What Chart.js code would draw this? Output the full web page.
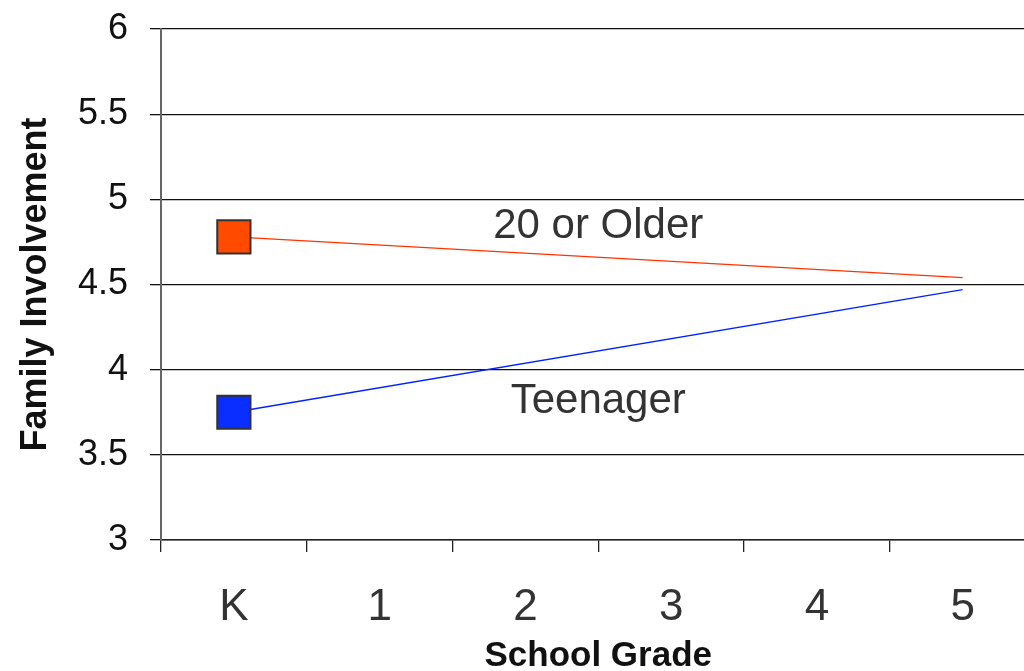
<!DOCTYPE html>
<html>
<head>
<meta charset="utf-8">
<script src="https://cdn.jsdelivr.net/npm/chart.js@4/dist/chart.umd.min.js"></script>
<style>
  html, body { margin: 0; padding: 0; background: #fff; overflow: hidden; }
  #wrap { width: 1024px; height: 671px; overflow: hidden; }
  canvas { display: block; }
</style>
</head>
<body>
<div id="wrap"><canvas id="grafico" width="1061" height="671"></canvas></div>
<script>
// grados escolares (eje x)
var grados = ['K', '1', '2', '3', '4', '5'];
// implicación familiar por edad de la madre; solo K y 5 tienen valor
var mayores = [4.78, null, null, null, null, 4.54];
var adolescentes = [3.75, null, null, null, null, 4.47];
// marcador solo en K
var marcadores = [23.5, 0, 0, 0, 0, 0];
// etiquetas dentro del gráfico, ancladas en unidades de datos
var etiquetas = [
  { texto: '20 or Older', x: 2.5, y: 4.84 },
  { texto: 'Teenager', x: 2.5, y: 3.815 }
];

var textos = {
  id: 'textos',
  afterDatasetsDraw: function (chart) {
    var ctx = chart.ctx;
    var sx = chart.scales.x, sy = chart.scales.y;
    ctx.save();
    ctx.font = '42px "Liberation Sans", Arial, sans-serif';
    ctx.fillStyle = '#333';
    ctx.textAlign = 'center';
    ctx.textBaseline = 'middle';
    for (let e of etiquetas) {
      ctx.fillText(e.texto, sx.getPixelForValue(e.x), sy.getPixelForValue(e.y));
    }
    ctx.restore();
  }
};

var fuente = '"Liberation Sans", Arial, sans-serif';

new Chart(document.getElementById('grafico'), {
  type: 'line',
  data: {
    labels: grados,
    datasets: [
      {
        label: '20 or Older',
        data: mayores,
        borderColor: '#FF3300',
        borderWidth: 1.3,
        backgroundColor: '#FF4A00',
        pointStyle: 'rect',
        pointRadius: marcadores,
        pointBorderColor: '#333',
        pointBorderWidth: 2,
        spanGaps: true
      },
      {
        label: 'Teenager',
        data: adolescentes,
        borderColor: '#0022FF',
        borderWidth: 1.3,
        backgroundColor: '#0A2EFF',
        pointStyle: 'rect',
        pointRadius: marcadores,
        pointBorderColor: '#333',
        pointBorderWidth: 2,
        spanGaps: true
      }
    ]
  },
  options: {
    responsive: false,
    animation: false,
    devicePixelRatio: 1,
    layout: { padding: { top: 29, right: 3, left: 0, bottom: 0 } },
    plugins: {
      legend: { display: false },
      tooltip: { enabled: false }
    },
    scales: {
      x: {
        type: 'category',
        offset: true,
        afterFit: function (s) {
          s.height = 131;
          s.paddingLeft = 0;
          s.paddingRight = 0;
        },
        grid: {
          offset: true,
          drawOnChartArea: false,
          drawTicks: true,
          tickLength: 12,
          color: '#222',
          lineWidth: 1.3
        },
        border: { display: true, color: '#222', width: 1.5 },
        ticks: {
          color: '#333',
          padding: 29,
          font: { family: fuente, size: 44 }
        },
        title: {
          display: true,
          text: 'School Grade',
          color: '#111',
          padding: { top: 0, bottom: -3 },
          font: { family: fuente, size: 35, weight: 'bold', lineHeight: 1 }
        }
      },
      y: {
        min: 3,
        max: 6,
        afterFit: function (s) {
          s.width = 161;
          s.paddingTop = 0;
          s.paddingBottom = 0;
        },
        ticks: {
          stepSize: 0.5,
          color: '#111',
          padding: 22,
          font: { family: fuente, size: 36 },
          callback: function (v) { return String(v); }
        },
        grid: {
          color: '#111',
          lineWidth: 1.3,
          drawTicks: true,
          tickLength: 11
        },
        border: { display: true, color: '#666', width: 2 },
        title: {
          display: true,
          text: 'Family Involvement',
          color: '#111',
          padding: { top: 18, bottom: 0 },
          font: { family: fuente, size: 36, weight: 'bold', lineHeight: 1 }
        }
      }
    }
  },
  plugins: [textos]
});
</script>
</body>
</html>
